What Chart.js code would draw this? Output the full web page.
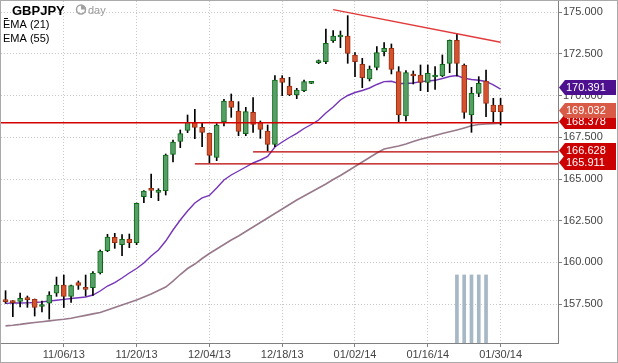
<!DOCTYPE html>
<html><head><meta charset="utf-8">
<script src="https://cdn.jsdelivr.net/npm/chart.js@4.4.1/dist/chart.umd.min.js"></script>
<style>html,body{margin:0;padding:0;background:#fff;overflow:hidden}canvas{display:block}</style>
</head><body><canvas id="c" width="618" height="363"></canvas>
<script>
// ---------- DATA ----------
const dates = ['10/25/13','10/28/13','10/29/13','10/30/13','10/31/13','11/01/13','11/04/13','11/05/13',
 '11/06/13','11/07/13','11/08/13','11/11/13','11/12/13','11/13/13','11/14/13','11/15/13','11/18/13','11/19/13',
 '11/20/13','11/21/13','11/22/13','11/25/13','11/26/13','11/27/13','11/28/13','11/29/13','12/02/13','12/03/13',
 '12/04/13','12/05/13','12/06/13','12/09/13','12/10/13','12/11/13','12/12/13','12/13/13','12/16/13','12/17/13',
 '12/18/13','12/19/13','12/20/13','12/23/13','12/24/13','12/26/13','12/27/13','12/30/13','12/31/13','01/01/14',
 '01/02/14','01/03/14','01/06/14','01/07/14','01/08/14','01/09/14','01/10/14','01/13/14','01/14/14','01/15/14',
 '01/16/14','01/17/14','01/20/14','01/21/14','01/22/14','01/23/14','01/24/14','01/27/14','01/28/14','01/29/14','01/30/14'];

const open  = [157.74,157.68,157.66,157.88,157.78,157.35,157.55,158.15,158.64,157.95,158.78,158.46,158.48,159.36,160.70,161.50,161.06,161.40,161.18,163.94,164.42,164.20,164.30,166.48,167.26,167.92,168.38,168.10,167.74,166.30,168.44,169.68,169.08,167.72,169.00,168.38,167.88,167.08,171.04,170.58,170.04,170.30,170.74,171.98,172.04,173.30,173.52,173.58,172.44,171.88,171.00,171.70,172.64,172.84,171.44,168.78,171.30,171.24,170.80,171.12,171.18,171.94,173.32,171.82,168.84,170.14,170.88,169.44,169.44];
const high  = [158.30,157.70,158.16,157.98,157.80,157.68,158.24,159.12,159.24,158.63,158.88,159.24,159.44,160.74,161.68,161.74,161.66,161.70,163.56,164.30,165.30,164.42,166.50,167.34,167.94,168.84,169.18,168.38,167.76,168.32,169.78,170.10,169.64,169.30,169.88,168.48,168.24,171.20,171.20,171.10,170.44,170.94,170.84,172.14,174.00,173.90,173.88,174.80,172.58,172.24,171.78,172.94,173.18,173.10,171.74,171.50,171.48,171.84,171.84,171.74,172.44,173.34,173.74,171.90,170.50,171.14,171.54,169.84,169.84];
const low   = [157.54,156.74,157.32,157.30,156.78,157.02,156.60,157.96,157.29,157.60,158.38,157.98,158.02,159.30,160.64,160.84,160.40,160.88,161.06,163.58,163.88,163.70,164.04,166.02,166.88,167.78,167.42,166.94,165.98,166.10,168.18,168.70,167.60,167.60,167.80,167.44,166.70,166.94,170.00,170.00,169.82,170.24,170.72,171.92,171.92,173.20,172.88,171.94,171.14,170.48,170.88,171.54,172.38,171.30,168.44,168.48,170.70,170.30,170.24,170.38,171.14,171.38,171.18,168.64,167.80,169.94,168.74,168.44,168.24];
const close = [157.64,157.58,157.84,157.76,157.29,157.45,158.04,158.64,157.95,158.61,158.62,158.38,159.34,160.66,161.52,161.18,161.38,161.18,163.54,164.28,164.32,164.28,166.44,167.22,167.72,168.40,168.10,167.80,166.42,168.24,169.68,169.30,167.85,169.04,168.28,167.98,167.08,170.94,170.80,170.06,170.34,170.84,170.82,172.06,173.14,173.58,173.60,172.54,172.04,171.08,171.60,172.58,172.84,171.58,168.84,171.38,171.18,170.80,171.34,171.20,171.88,173.32,171.94,169.00,170.14,170.74,169.54,169.04,169.032];

const ema21 = [157.54,157.56,157.56,157.57,157.59,157.63,157.68,157.73,157.78,157.83,157.88,157.92,158.04,158.28,158.58,158.79,159.06,159.36,159.63,159.96,160.38,160.74,161.28,161.94,162.54,163.08,163.56,163.87,164.01,164.46,164.94,165.24,165.48,165.72,165.96,166.14,166.35,166.92,167.22,167.49,167.74,168.03,168.27,168.54,168.96,169.32,169.74,170.01,170.19,170.31,170.46,170.67,170.84,170.86,170.73,170.73,170.76,170.84,170.88,170.92,171.03,171.15,171.21,171.04,170.97,170.92,170.85,170.64,170.391];
const ema55 = [156.19,156.23,156.28,156.34,156.39,156.44,156.49,156.54,156.59,156.65,156.74,156.82,156.91,156.99,157.14,157.29,157.44,157.59,157.74,157.92,158.10,158.31,158.52,158.87,159.27,159.63,159.90,160.23,160.53,160.80,161.07,161.34,161.58,161.85,162.12,162.39,162.66,162.93,163.20,163.47,163.74,163.98,164.22,164.46,164.70,164.97,165.21,165.48,165.75,166.02,166.29,166.56,166.80,166.89,166.98,167.10,167.25,167.38,167.49,167.61,167.73,167.83,167.94,168.06,168.19,168.27,168.30,168.32,168.34];

const xTickLabels = ['11/06/13','11/20/13','12/04/13','12/18/13','01/02/14','01/16/14','01/30/14'];
const yTicks = [157.5,160,162.5,165,167.5,170,172.5,175];

const levelValues = [168.378,166.628,165.911];
const levelStart  = [null,'12/12/13','12/02/13'];
const trendDates  = ['12/30/13','01/30/14'];
const trendValues = [175.16,173.20];
const cycleDates  = ['01/22/14','01/23/14','01/24/14','01/27/14','01/28/14'];
const cycleValues = [19.9,19.9,19.9,19.9,19.9];

// ---------- LAYOUT / STYLE ----------
const X_MIN = -0.626, X_MAX = 75.885;
const Y_MIN = 155.162, Y_MAX = 175.678;
const GREEN_FILL = '#559f66', GREEN_LINE = '#0c6a16';
const RED_FILL = '#d5522f', RED_LINE = '#9a3012';
const LEVEL_COLORS = ['#d40000','#b80000','#b80000'];
const LEVEL_WIDTHS = [1.5,1.2,1.2];
const FONT = "'Liberation Sans', Arial, sans-serif";

Chart.defaults.font.family = FONT;
Chart.defaults.font.size = 11;
Chart.defaults.color = '#444';

const idx = d => dates.indexOf(d);
const isUp = i => close[i] >= open[i];

const bodies = dates.map((d,i)=>({x:i, y:[Math.min(open[i],close[i]), Math.max(open[i],close[i])]}));
const wicks = dates.map((d,i)=>({x:i, y:[low[i], high[i]]}));

const levelSets = levelValues.map((v,j)=>({
  type:'line', order:0,
  data:[{x: levelStart[j] ? idx(levelStart[j]) : X_MIN, y:v},{x:X_MAX, y:v}],
  borderColor:LEVEL_COLORS[j], borderWidth:LEVEL_WIDTHS[j], pointRadius:0, xAxisID:'x', yAxisID:'y'
}));

const datasets = [
  ...levelSets,
  { type:'line', order:0, data: trendDates.map((d,j)=>({x:idx(d), y:trendValues[j]})),
    borderColor:'#e23a3a', borderWidth:1.5, pointRadius:0 },
  { type:'bar', order:1, data: bodies, grouped:false, barThickness:5, minBarLength:2,
    backgroundColor: dates.map((d,i)=>isUp(i)?GREEN_FILL:RED_FILL),
    borderColor: dates.map((d,i)=>isUp(i)?GREEN_LINE:RED_LINE),
    borderWidth:1, borderSkipped:false },
  { type:'bar', order:2, data: wicks, grouped:false, barThickness:1,
    backgroundColor:'#000', borderWidth:0 },
  { type:'line', order:3, data: ema21.map((v,i)=>({x:i,y:v})), borderColor:'#7433b8', borderWidth:1.4, pointRadius:0 },
  { type:'line', order:3, data: ema55.map((v,i)=>({x:i,y:v})), borderColor:'#98798b', borderWidth:1.6, pointRadius:0 },
  { type:'bar', order:4, data: cycleDates.map((d,j)=>({x:idx(d), y:cycleValues[j]})), grouped:false,
    barThickness:3, backgroundColor:'#a6b7c5', yAxisID:'y2' }
];

const tickIdx = xTickLabels.map(idx);

function drawTag(ctx, y, color, text){
  y = Math.round(y);
  const top = y - 9, bot = y + 6, mid = y - 1.5;
  ctx.fillStyle = color;
  ctx.beginPath();
  ctx.moveTo(559, mid); ctx.lineTo(565, top); ctx.lineTo(616, top); ctx.lineTo(616, bot); ctx.lineTo(565, bot);
  ctx.closePath(); ctx.fill();
  ctx.fillStyle = '#fff'; ctx.font = '11px ' + FONT; ctx.textAlign = 'left'; ctx.textBaseline = 'middle';
  ctx.fillText(text, 566, y - 1);
}

const overlay = {
  id:'overlay',
  afterDraw(chart){
    const ctx = chart.ctx, ys = chart.scales.y;
    ctx.save();
    const n = dates.length - 1;
    drawTag(ctx, ys.getPixelForValue(ema21[n]), '#4d118f', ema21[n].toFixed(3));
    drawTag(ctx, ys.getPixelForValue(levelValues[0]), '#cc0000', levelValues[0].toFixed(3));
    drawTag(ctx, ys.getPixelForValue(close[n]), '#d95a47', close[n].toFixed(3));
    drawTag(ctx, ys.getPixelForValue(levelValues[1]), '#cc0000', levelValues[1].toFixed(3));
    drawTag(ctx, ys.getPixelForValue(levelValues[2]), '#cc0000', levelValues[2].toFixed(3));
    ctx.textAlign='left'; ctx.textBaseline='alphabetic';
    ctx.fillStyle='#000'; ctx.font='bold 13px ' + FONT; ctx.fillText('GBPJPY', 12, 15);
    ctx.strokeStyle='#a0a0a0'; ctx.lineWidth=1.5;
    ctx.beginPath(); ctx.arc(81, 9.5, 4.5, 0, Math.PI*2); ctx.stroke();
    ctx.fillStyle='#a0a0a0'; ctx.beginPath(); ctx.moveTo(81,9.5); ctx.arc(81,9.5,4.5,-Math.PI/2,0); ctx.closePath(); ctx.fill();
    ctx.font='11px ' + FONT; ctx.fillStyle='#999'; ctx.fillText('day', 88, 14);
    ctx.fillStyle='#000'; ctx.fillText('EMA (21)', 3, 28); ctx.fillText('EMA (55)', 3, 42);
    ctx.fillRect(4, 18, 4, 1);
    ctx.strokeStyle='#a9a9a9'; ctx.lineWidth=1; ctx.strokeRect(0.5,0.5,617,362);
    ctx.restore();
  }
};

const noPad = s => { s.paddingTop = 0; s.paddingBottom = 0; s.paddingLeft = 0; s.paddingRight = 0; };

new Chart(document.getElementById('c'), {
  data:{ datasets },
  options:{
    responsive:false, animation:false, devicePixelRatio:1,
    layout:{ padding:{left:1, top:1, right:0, bottom:0} },
    plugins:{ legend:{display:false}, tooltip:{enabled:false} },
    scales:{
      x:{ type:'linear', min:X_MIN, max:X_MAX, offset:false,
        afterBuildTicks: s => { s.ticks = tickIdx.map(v=>({value:v})); },
        afterFit: s => { s.height = 20; noPad(s); },
        ticks:{ callback: v => dates[v], autoSkip:false, maxRotation:0, minRotation:0, padding:1, color:'#444' },
        grid:{ offset:false, color:'#c8c8c8', lineWidth:1, tickLength:4, tickColor:'#808080', tickBorderDash:[] },
        border:{ color:'#808080', width:1, dash:[1,2] } },
      y:{ type:'linear', position:'right', min:Y_MIN, max:Y_MAX,
        afterBuildTicks: s => { s.ticks = yTicks.map(v=>({value:v})); },
        afterFit: s => { s.width = 60; noPad(s); },
        ticks:{ callback: v => v.toFixed(3), padding:1, color:'#444' },
        grid:{ color:'#c8c8c8', lineWidth:1, tickLength:4, tickColor:'#808080', tickBorderDash:[] },
        border:{ color:'#808080', width:1, dash:[1,2] } },
      y2:{ type:'linear', display:false, min:0, max:100 }
    }
  },
  plugins:[overlay]
});
</script></body></html>
